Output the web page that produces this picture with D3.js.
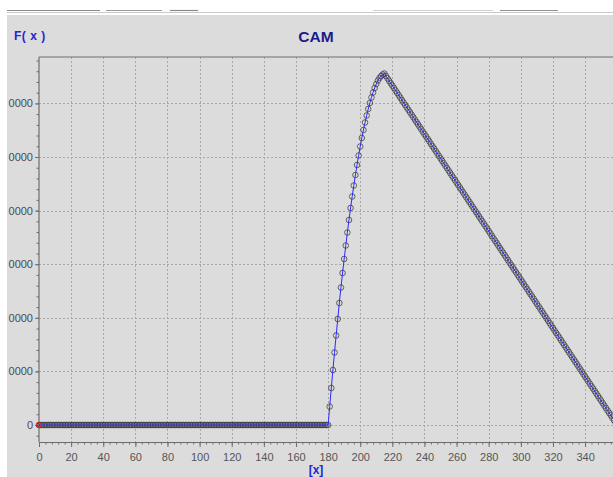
<!DOCTYPE html>
<html>
<head>
<meta charset="utf-8">
<script src="https://cdn.jsdelivr.net/npm/d3@7"></script>
<style>
  html, body { margin: 0; padding: 0; background: #ffffff; }
  svg { display: block; font-family: "Liberation Sans", Arial, sans-serif; }
</style>
</head>
<body>
<svg id="chart" width="613" height="477"></svg>
<script>
// ---- chart text ----
const chartTitle = "CAM";
const yAxisTitle = "F( x )";
const xAxisTitle = "[x]";

// ---- axis ticks ----
const xTickValues = [0, 20, 40, 60, 80, 100, 120, 140, 160, 180, 200, 220, 240, 260, 280, 300, 320, 340];
const xMinorStep = 4;
const yTickValues = [0, 10000, 20000, 30000, 40000, 50000, 60000];
const yTickLabels = ["0", "0000", "0000", "0000", "0000", "0000", "0000"];
const yMinorStep = 2000;
const xDomain = [0, 360];
const yDomain = [-3172, 68657];

// ---- cam lift per degree (index = angle in degrees, 0..360) ----
// dwell 0..180
const dwellLift = [
  0,0,0,0,0,0,0,0,0,0,0,0,0,0,0,0,0,0,0,0,
  0,0,0,0,0,0,0,0,0,0,0,0,0,0,0,0,0,0,0,0,
  0,0,0,0,0,0,0,0,0,0,0,0,0,0,0,0,0,0,0,0,
  0,0,0,0,0,0,0,0,0,0,0,0,0,0,0,0,0,0,0,0,
  0,0,0,0,0,0,0,0,0,0,0,0,0,0,0,0,0,0,0,0,
  0,0,0,0,0,0,0,0,0,0,0,0,0,0,0,0,0,0,0,0,
  0,0,0,0,0,0,0,0,0,0,0,0,0,0,0,0,0,0,0,0,
  0,0,0,0,0,0,0,0,0,0,0,0,0,0,0,0,0,0,0,0,
  0,0,0,0,0,0,0,0,0,0,0,0,0,0,0,0,0,0,0,0,
  0
];
// rise 181..215
const riseLift = [
  3450, 6900, 10260, 13530, 16700, 19780, 22760, 25650, 28360, 30970,
  33490, 35910, 38250, 40490, 42630, 44680, 46640, 48510, 50280, 51960,
  53550, 55040, 56440, 57740, 58960, 60080, 61100, 62040, 62870, 63620,
  64270, 64740, 65110, 65390, 65580
];
// return 216..360
const returnLift = [
  65130, 64680, 64220, 63770, 63320, 62870, 62410, 61960, 61510, 61060,
  60600, 60150, 59700, 59250, 58800, 58340, 57890, 57440, 56990, 56530,
  56080, 55630, 55180, 54720, 54270, 53820, 53370, 52920, 52460, 52010,
  51560, 51110, 50650, 50200, 49750, 49300, 48840, 48390, 47940, 47490,
  47040, 46580, 46130, 45680, 45230, 44770, 44320, 43870, 43420, 42970,
  42510, 42060, 41610, 41160, 40700, 40250, 39800, 39350, 38890, 38440,
  37990, 37540, 37090, 36630, 36180, 35730, 35280, 34820, 34370, 33920,
  33470, 33010, 32560, 32110, 31660, 31210, 30750, 30300, 29850, 29400,
  28940, 28490, 28040, 27590, 27130, 26680, 26230, 25780, 25330, 24870,
  24420, 23970, 23520, 23060, 22610, 22160, 21710, 21250, 20800, 20350,
  19900, 19450, 18990, 18540, 18090, 17640, 17180, 16730, 16280, 15830,
  15370, 14920, 14470, 14020, 13570, 13110, 12660, 12210, 11760, 11300,
  10850, 10400, 9950, 9490, 9040, 8590, 8140, 7690, 7230, 6780,
  6330, 5880, 5420, 4970, 4520, 4070, 3610, 3160, 2710, 2260,
  1810, 1350, 900, 450, 0
];

const lift = dwellLift.concat(riseLift, returnLift);
const points = lift.map((v, i) => ({ x: i, y: v }));

// ---- layout ----
const W = 613, H = 477;
const plot = { left: 39, top: 57, right: 617.2, bottom: 442 };

const svg = d3.select("#chart");

// window strip and panel
svg.append("rect").attr("x", 0).attr("y", 0).attr("width", W).attr("height", H).attr("fill", "#ffffff");
svg.append("line").attr("x1", 7).attr("x2", W).attr("y1", 12.5).attr("y2", 12.5)
  .attr("stroke", "#c9c9c9").attr("stroke-width", 1);
const toolbarSegs = [[7, 100, "#8a8a8a"], [106, 162, "#9a9a9a"], [170, 198, "#8a8a8a"],
                     [373, 493, "#cfcfcf"], [500, 558, "#8f8f8f"]];
svg.selectAll("line.tb").data(toolbarSegs).join("line").attr("class", "tb")
  .attr("x1", d => d[0]).attr("x2", d => d[1]).attr("y1", 10.5).attr("y2", 10.5)
  .attr("stroke", d => d[2]).attr("stroke-width", 1.2);
svg.append("rect").attr("x", 7).attr("y", 15).attr("width", W - 7).attr("height", H - 15)
  .attr("fill", "#dcdcdc");

const x = d3.scaleLinear().domain(xDomain).range([plot.left, plot.right]);
const y = d3.scaleLinear().domain(yDomain).range([plot.bottom, plot.top]);

// grid
const grid = svg.append("g").attr("stroke", "#a8a8a8").attr("stroke-width", 1)
  .attr("stroke-dasharray", "2,2");
grid.selectAll("line.gx").data(xTickValues.filter(v => v > xDomain[0])).join("line")
  .attr("class", "gx")
  .attr("x1", d => Math.round(x(d)) + 0.5).attr("x2", d => Math.round(x(d)) + 0.5)
  .attr("y1", plot.top).attr("y2", plot.bottom);
grid.selectAll("line.gy").data(yTickValues).join("line")
  .attr("class", "gy")
  .attr("y1", d => Math.round(y(d)) + 0.5).attr("y2", d => Math.round(y(d)) + 0.5)
  .attr("x1", plot.left).attr("x2", W);

// frame
const frame = svg.append("g").attr("stroke", "#6e6e6e").attr("stroke-width", 1.2).attr("fill", "none");
frame.append("line").attr("x1", plot.left).attr("x2", W).attr("y1", plot.top).attr("y2", plot.top);
frame.append("line").attr("x1", plot.left).attr("x2", plot.left).attr("y1", plot.top).attr("y2", plot.bottom);

// x axis
const xMinor = d3.range(xDomain[0], xDomain[1] + 1, xMinorStep);
const xAxisG = svg.append("g").attr("transform", `translate(0,${plot.bottom})`);
xAxisG.append("g").call(d3.axisBottom(x).tickValues(xMinor).tickSize(2.5).tickFormat("").tickSizeOuter(0));
xAxisG.append("g").call(d3.axisBottom(x).tickValues(xTickValues).tickSize(5).tickPadding(6).tickSizeOuter(0));
xAxisG.selectAll(".domain").attr("stroke", "#6e6e6e").attr("stroke-width", 1.2);
xAxisG.selectAll(".tick line").attr("stroke", "#6e6e6e");
xAxisG.selectAll(".tick text").attr("fill", "#555").attr("font-size", 11)
  .attr("font-family", "'Liberation Sans', Arial, sans-serif");

// y axis
const yMinor = d3.range(0, yDomain[1], yMinorStep).concat([-2000]);
const yAxisG = svg.append("g").attr("transform", `translate(${plot.left},0)`);
yAxisG.append("g").call(d3.axisLeft(y).tickValues(yMinor).tickSize(2.5).tickFormat("").tickSizeOuter(0));
yAxisG.append("g").call(d3.axisLeft(y).tickValues(yTickValues).tickSize(4)
  .tickFormat((d, i) => yTickLabels[i]).tickPadding(2).tickSizeOuter(0));
yAxisG.selectAll(".domain").remove();
yAxisG.selectAll(".tick line").attr("stroke", "#6e6e6e");
yAxisG.selectAll(".tick text").attr("fill", "#4a4a5a").attr("font-size", 11)
  .attr("font-family", "'Liberation Sans', Arial, sans-serif");

// series: markers then connecting line
const series = svg.append("g");
series.selectAll("circle.pt").data(points).join("circle").attr("class", "pt")
  .attr("cx", d => x(d.x)).attr("cy", d => y(d.y)).attr("r", 2.8)
  .attr("fill", "none").attr("stroke", "#3a3a3a").attr("stroke-width", 0.9).attr("stroke-opacity", 0.85);
series.append("path").datum(points)
  .attr("d", d3.line().x(d => x(d.x)).y(d => y(d.y)))
  .attr("fill", "none").attr("stroke", "#2a2aff").attr("stroke-width", 1);
// start point highlight
series.append("circle").attr("cx", x(points[0].x)).attr("cy", y(points[0].y)).attr("r", 2.4)
  .attr("fill", "none").attr("stroke", "#d02020").attr("stroke-width", 1.3);

// titles
svg.append("text").attr("x", 14).attr("y", 40).text(yAxisTitle)
  .attr("font-size", 12).attr("font-weight", "bold").attr("fill", "#2424d8")
  .attr("xml:space", "preserve").style("white-space", "pre").attr("letter-spacing", 0.5);
svg.append("text").attr("x", 316).attr("y", 42).attr("text-anchor", "middle").text(chartTitle)
  .attr("font-size", 15.5).attr("font-weight", "bold").attr("fill", "#1a1a8a");
svg.append("text").attr("x", 316).attr("y", 474).attr("text-anchor", "middle").text(xAxisTitle)
  .attr("font-size", 12).attr("font-weight", "bold").attr("fill", "#2424d8");
</script>
</body>
</html>
